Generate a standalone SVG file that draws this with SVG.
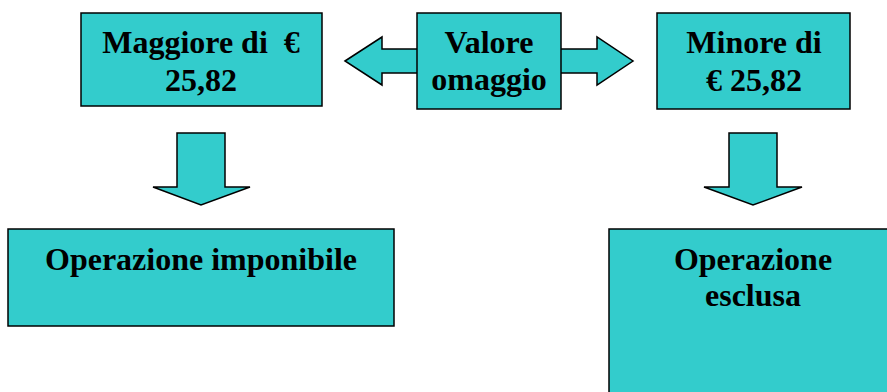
<svg xmlns="http://www.w3.org/2000/svg" width="887" height="392" viewBox="0 0 887 392">
<style>
.box{fill:#33CCCC;stroke:#000;stroke-width:1.5}
.arr{fill:#33CCCC;stroke:#000;stroke-width:1.5;stroke-linejoin:miter}
.t{font-family:"Liberation Serif","Times New Roman",serif;font-weight:bold;font-size:32px;fill:#000;text-anchor:middle;white-space:pre}
</style>
<rect width="887" height="392" fill="#fff"/>
<g id="connectors">
<polygon class="arr" points="345,61 382,37 382,49 597,49 597,37 633,61 597,85 597,73 382,73 382,85"/>
<polygon class="arr" points="177,133 225,133 225,187 250,187 201,205 153,187 177,187"/>
<polygon class="arr" points="729,133 777,133 777,187 802,187 753,205 704,187 729,187"/>
</g>
<g id="maggiore">
<rect class="box" x="81" y="13" width="241" height="93"/>
<text class="t" x="201" y="53" xml:space="preserve">Maggiore di  €</text>
<text class="t" x="201" y="91">25,82</text>
</g>
<g id="valore">
<rect class="box" x="417" y="13" width="144" height="96"/>
<text class="t" x="489" y="53">Valore</text>
<text class="t" x="489" y="90">omaggio</text>
</g>
<g id="minore">
<rect class="box" x="657" y="13" width="193" height="96"/>
<text class="t" x="754" y="53">Minore di</text>
<text class="t" x="754" y="91">€ 25,82</text>
</g>
<g id="imponibile">
<rect class="box" x="8" y="229" width="386" height="97"/>
<text class="t" x="201" y="270">Operazione imponibile</text>
</g>
<g id="esclusa">
<rect class="box" x="609" y="229" width="290" height="180"/>
<text class="t" x="753" y="270">Operazione</text>
<text class="t" x="753" y="306">esclusa</text>
</g>
</svg>
